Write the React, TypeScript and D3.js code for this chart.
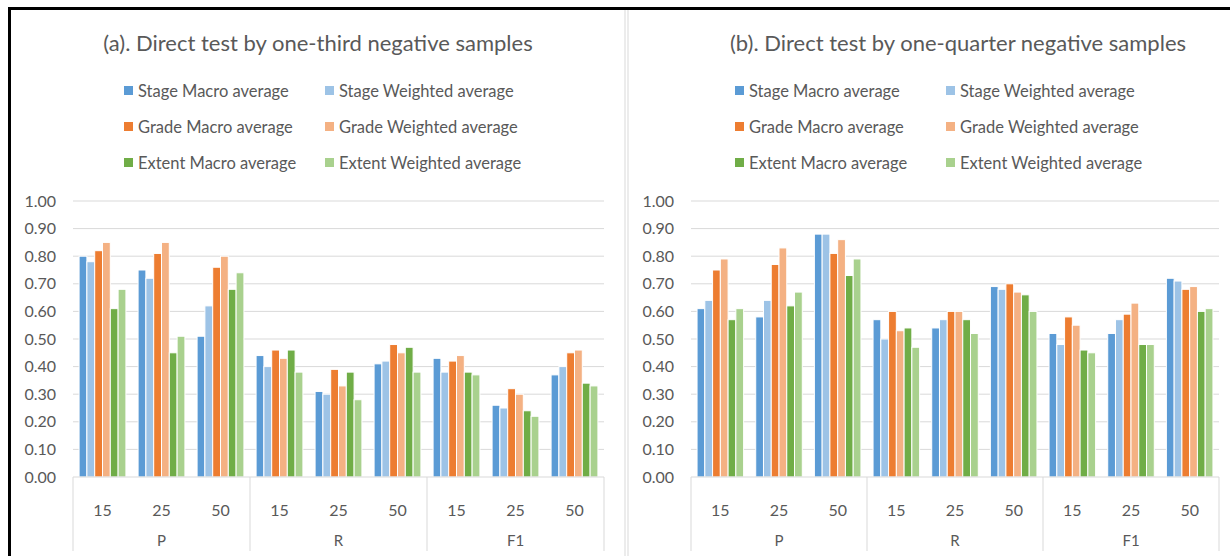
import React from "react";
import * as d3 from "d3";

const seriesNames = [
  "Stage Macro average",
  "Stage Weighted average",
  "Grade Macro average",
  "Grade Weighted average",
  "Extent Macro average",
  "Extent Weighted average",
];
const seriesColors = ["#5B9BD5", "#9DC3E6", "#ED7D31", "#F4B183", "#70AD47", "#A9D18E"];
const metrics = ["P", "R", "F1"];
const sampleSizes = ["15", "25", "50"];
const yTicks = [0, 0.1, 0.2, 0.3, 0.4, 0.5, 0.6, 0.7, 0.8, 0.9, 1.0];

// panel (a): one row per category (P15, P25, P50, R15, ... F1 50), six series each
const thirdValues = [
  [0.8, 0.78, 0.82, 0.85, 0.61, 0.68],
  [0.75, 0.72, 0.81, 0.85, 0.45, 0.51],
  [0.51, 0.62, 0.76, 0.8, 0.68, 0.74],
  [0.44, 0.4, 0.46, 0.43, 0.46, 0.38],
  [0.31, 0.3, 0.39, 0.33, 0.38, 0.28],
  [0.41, 0.42, 0.48, 0.45, 0.47, 0.38],
  [0.43, 0.38, 0.42, 0.44, 0.38, 0.37],
  [0.26, 0.25, 0.32, 0.3, 0.24, 0.22],
  [0.37, 0.4, 0.45, 0.46, 0.34, 0.33],
];
// panel (b)
const quarterValues = [
  [0.61, 0.64, 0.75, 0.79, 0.57, 0.61],
  [0.58, 0.64, 0.77, 0.83, 0.62, 0.67],
  [0.88, 0.88, 0.81, 0.86, 0.73, 0.79],
  [0.57, 0.5, 0.6, 0.53, 0.54, 0.47],
  [0.54, 0.57, 0.6, 0.6, 0.57, 0.52],
  [0.69, 0.68, 0.7, 0.67, 0.66, 0.6],
  [0.52, 0.48, 0.58, 0.55, 0.46, 0.45],
  [0.52, 0.57, 0.59, 0.63, 0.48, 0.48],
  [0.72, 0.71, 0.68, 0.69, 0.6, 0.61],
];

const FONT = "Lato, 'Open Sans', sans-serif";
const TEXT = "#595959";

type PanelProps = {
  title: string;
  values: number[][];
  plotLeft: number;
  plotRight: number;
  titleX: number;
  legendX1: number;
  legendX2: number;
};

function Panel({ title, values, plotLeft, plotRight, titleX, legendX1, legendX2 }: PanelProps) {
  const top = 201;
  const bottom = 477;
  const y = d3.scaleLinear().domain([0, 1]).range([bottom, top]);
  const cats = metrics.flatMap((m) => sampleSizes.map((s) => `${m}-${s}`));
  const x0 = d3.scaleBand<string>().domain(cats).range([plotLeft, plotRight]).padding(0);
  const x1 = d3
    .scaleBand<string>()
    .domain(seriesNames)
    .range([0, x0.bandwidth()])
    .paddingInner(0)
    .paddingOuter(0.78);
  const xm = d3.scaleBand<string>().domain(metrics).range([plotLeft, plotRight]).padding(0);
  const legendCols = [legendX1, legendX2];
  const legendRows = [91, 127, 163];

  return (
    <g>
      <text x={titleX} y={51} textAnchor="middle" fontSize={22} fill={TEXT} fontFamily={FONT}>
        {title}
      </text>
      {seriesNames.map((name, i) => {
        const lx = legendCols[i % 2];
        const ly = legendRows[Math.floor(i / 2)];
        return (
          <g key={name}>
            <rect x={lx} y={ly - 5} width={9} height={9} fill={seriesColors[i]} />
            <text x={lx + 14} y={ly + 6} fontSize={16.5} fill={TEXT} fontFamily={FONT}>
              {name}
            </text>
          </g>
        );
      })}
      {yTicks.map((t) => (
        <g key={t}>
          {t > 0 && (
            <line x1={plotLeft} x2={plotRight} y1={y(t)} y2={y(t)} stroke="#D9D9D9" strokeWidth={1} />
          )}
          <text
            x={plotLeft - 17}
            y={y(t) + 5.5}
            textAnchor="end"
            fontSize={16}
            fill={TEXT}
            fontFamily={FONT}
          >
            {t.toFixed(2)}
          </text>
        </g>
      ))}
      {values.map((row, ci) =>
        row.map((v, si) => (
          <rect
            key={`${ci}-${si}`}
            x={(x0(cats[ci]) as number) + (x1(seriesNames[si]) as number)}
            y={y(v)}
            width={x1.bandwidth()}
            height={bottom - y(v)}
            fill={seriesColors[si]}
            stroke="#fff"
            strokeWidth={1}
          />
        ))
      )}
      <line x1={plotLeft} x2={plotRight} y1={bottom} y2={bottom} stroke="#D9D9D9" strokeWidth={1} />
      {[...metrics.map((m) => xm(m) as number), plotRight].map((xx, i) => (
        <line key={i} x1={xx} x2={xx} y1={bottom} y2={551} stroke="#D9D9D9" strokeWidth={1} />
      ))}
      {cats.map((c) => (
        <text
          key={c}
          x={(x0(c) as number) + x0.bandwidth() / 2}
          y={516}
          textAnchor="middle"
          fontSize={16}
          fill={TEXT}
          fontFamily={FONT}
        >
          {c.split("-")[1]}
        </text>
      ))}
      {metrics.map((m) => (
        <text
          key={m}
          x={(xm(m) as number) + xm.bandwidth() / 2}
          y={546}
          textAnchor="middle"
          fontSize={15}
          fill={TEXT}
          fontFamily={FONT}
        >
          {m}
        </text>
      ))}
    </g>
  );
}

export default function App() {
  return (
    <svg
      width={1230}
      height={556}
      style={{ position: "absolute", left: 0, top: 0, background: "#fff" }}
    >
      <rect x={0} y={0} width={1230} height={556} fill="#fff" />
      <line x1={8} x2={1230} y1={8.5} y2={8.5} stroke="#000" strokeWidth={3} />
      <line x1={9.5} x2={9.5} y1={7} y2={556} stroke="#000" strokeWidth={3} />
      <line x1={625} x2={625} y1={10} y2={556} stroke="#D9D9D9" strokeWidth={1} />
      <line x1={628} x2={628} y1={10} y2={556} stroke="#D9D9D9" strokeWidth={1} />
      <Panel
        title="(a). Direct test by one-third negative samples"
        values={thirdValues}
        plotLeft={73}
        plotRight={604}
        titleX={318}
        legendX1={124}
        legendX2={325}
      />
      <Panel
        title="(b). Direct test by one-quarter negative samples"
        values={quarterValues}
        plotLeft={691}
        plotRight={1219}
        titleX={958}
        legendX1={735}
        legendX2={946}
      />
    </svg>
  );
}
